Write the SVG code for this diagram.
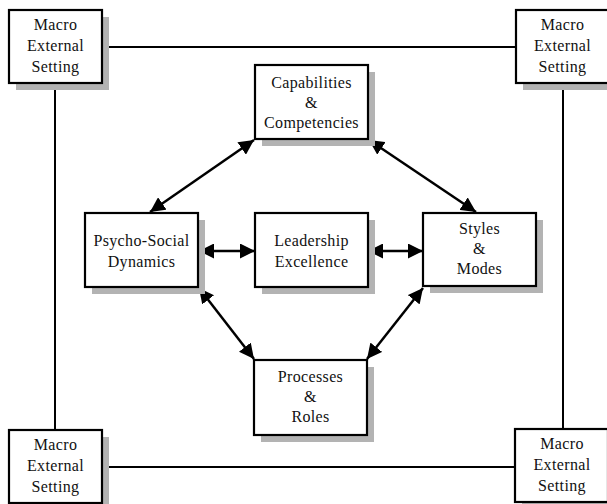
<svg xmlns="http://www.w3.org/2000/svg" width="607" height="504" viewBox="0 0 607 504">
<style>
.sh{fill:#b3b3b3}
.bx{fill:#fff;stroke:#000;stroke-width:2.2}
.t{font-family:"Liberation Serif","Times New Roman",serif;font-size:16px;letter-spacing:0.35px;fill:#111;text-anchor:middle}
.ln{stroke:#000;stroke-width:2;fill:none}
.ar{stroke:#000;stroke-width:2.5;fill:none;marker-start:url(#ah);marker-end:url(#ah)}
</style>
<defs>
<marker id="ah" viewBox="0 0 10 10" refX="10" refY="5" markerWidth="6" markerHeight="6" orient="auto-start-reverse" markerUnits="strokeWidth">
<path d="M0,0 L10,5 L0,10 z" fill="#000"/>
</marker>
</defs>
<rect width="607" height="504" fill="#fff"/>
<g id="connectors">
<line class="ln" x1="101" y1="47" x2="516" y2="47"/>
<line class="ln" x1="102" y1="467" x2="515" y2="467"/>
<line class="ln" x1="55" y1="83" x2="55" y2="430"/>
<line class="ln" x1="563" y1="83" x2="563" y2="429"/>
<line class="ar" x1="150" y1="212" x2="254" y2="140"/>
<line class="ar" x1="369" y1="140" x2="476" y2="212"/>
<line class="ar" x1="199" y1="288" x2="254" y2="359"/>
<line class="ar" x1="423" y1="288" x2="367" y2="359"/>
<line class="ar" x1="199" y1="251" x2="255" y2="251"/>
<line class="ar" x1="368" y1="251" x2="423" y2="251"/>
</g>
<g id="macro-tl">
<rect class="sh" x="16" y="17" width="93" height="73"/>
<rect class="bx" x="9" y="10" width="93" height="73"/>
<text class="t" x="55.5" y="30">Macro</text>
<text class="t" x="55.5" y="51">External</text>
<text class="t" x="55.5" y="72">Setting</text>
</g>
<g id="macro-tr">
<rect class="sh" x="523" y="17" width="93" height="73"/>
<rect class="bx" x="516" y="10" width="93" height="73"/>
<text class="t" x="562.5" y="30">Macro</text>
<text class="t" x="562.5" y="51">External</text>
<text class="t" x="562.5" y="72">Setting</text>
</g>
<g id="macro-bl">
<rect class="sh" x="16" y="437" width="93" height="73"/>
<rect class="bx" x="9" y="430" width="93" height="73"/>
<text class="t" x="55.5" y="450">Macro</text>
<text class="t" x="55.5" y="471">External</text>
<text class="t" x="55.5" y="492">Setting</text>
</g>
<g id="macro-br">
<rect class="sh" x="522" y="436" width="93" height="73"/>
<rect class="bx" x="515" y="429" width="93" height="73"/>
<text class="t" x="562" y="449">Macro</text>
<text class="t" x="562" y="470">External</text>
<text class="t" x="562" y="491">Setting</text>
</g>
<g id="capabilities">
<rect class="sh" x="262" y="72" width="113" height="74"/>
<rect class="bx" x="255" y="65" width="113" height="74"/>
<text class="t" x="311.5" y="88">Capabilities</text>
<text class="t" x="311.5" y="108">&amp;</text>
<text class="t" x="311.5" y="128">Competencies</text>
</g>
<g id="psycho">
<rect class="sh" x="92" y="220" width="113" height="74"/>
<rect class="bx" x="85" y="213" width="113" height="74"/>
<text class="t" x="141.5" y="246">Psycho-Social</text>
<text class="t" x="141.5" y="267">Dynamics</text>
</g>
<g id="leadership">
<rect class="sh" x="262" y="220" width="113" height="74"/>
<rect class="bx" x="255" y="213" width="113" height="74"/>
<text class="t" x="311.5" y="246">Leadership</text>
<text class="t" x="311.5" y="267">Excellence</text>
</g>
<g id="styles">
<rect class="sh" x="430" y="220" width="113" height="73"/>
<rect class="bx" x="423" y="213" width="113" height="73"/>
<text class="t" x="479.5" y="234">Styles</text>
<text class="t" x="479.5" y="254">&amp;</text>
<text class="t" x="479.5" y="274">Modes</text>
</g>
<g id="processes">
<rect class="sh" x="261" y="367" width="113" height="75"/>
<rect class="bx" x="254" y="360" width="113" height="75"/>
<text class="t" x="310.5" y="382">Processes</text>
<text class="t" x="310.5" y="402">&amp;</text>
<text class="t" x="310.5" y="422">Roles</text>
</g>
</svg>
